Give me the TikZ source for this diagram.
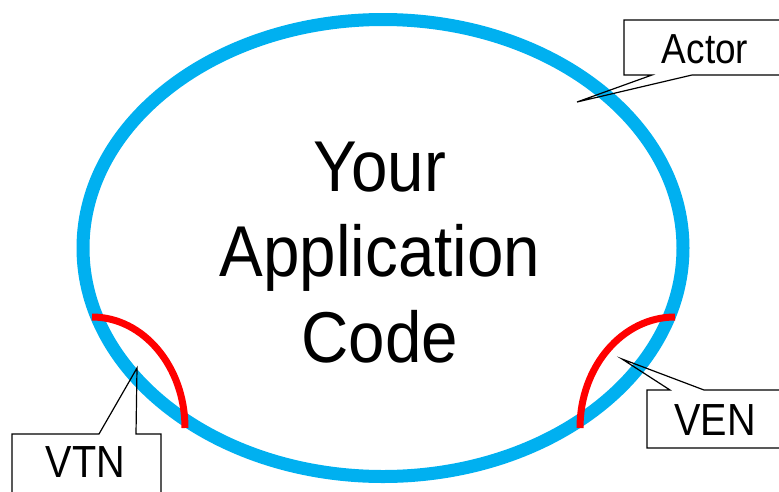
\documentclass[tikz,border=0pt]{standalone}
\usepackage{fontspec}
\setmainfont{Liberation Sans}[FakeStretch=0.88]
\newfontfamily\bigfont{Liberation Sans}[FakeStretch=0.91]
\usepackage{tikz}

\definecolor{ringblue}{RGB}{0,176,240}

\begin{document}
\begin{tikzpicture}[x=1pt,y=-1pt,line join=miter,
	callout/.style={draw=black,line width=1.2pt},
	tag/.style={font=\fontsize{45}{50}\selectfont,anchor=base}]
	\tikzstyle{every node}=[inner sep=0pt]
	\useasboundingbox (0,0) rectangle (779,491);
	\clip (0,0) rectangle (779,491);
	% the actor and its two endpoints
	\draw [ringblue,line width=13pt] (383,248) ellipse (300 and 228.5);
	\draw [red,line width=7pt] (92,317) arc (270:360:93 and 111);
	\draw [red,line width=7pt] (675,317) arc (270:180:95 and 111);
	\node (code) [align=center,font=\bigfont\fontsize{72}{85.5}\selectfont] at (380,252.5) {Your\\Application\\Code};
	% callouts
	\coordinate (actortip) at (577,102);
	\coordinate (vtntip) at (137,368);
	\coordinate (ventip) at (622,359);
	\draw [callout] (624,20) -- (800,20) -- (800,75) -- (692,75) -- (actortip) -- (652,75) -- (624,75) -- cycle;
	\draw [callout] (12,434) -- (99,434) -- (vtntip) -- (136,434) -- (161,434) -- (161,500) -- (12,500) -- cycle;
	\draw [callout] (647,390) -- (670,390) -- (ventip) -- (704,390) -- (800,390) -- (800,448) -- (647,448) -- cycle;
	\node (actor) [tag,font=\fontsize{42}{48}\selectfont] at (705,63) {Actor};
	\node (vtn) [tag] at (85.5,477) {VTN};
	\node (ven) [tag] at (715,435) {VEN};
\end{tikzpicture}
\end{document}
